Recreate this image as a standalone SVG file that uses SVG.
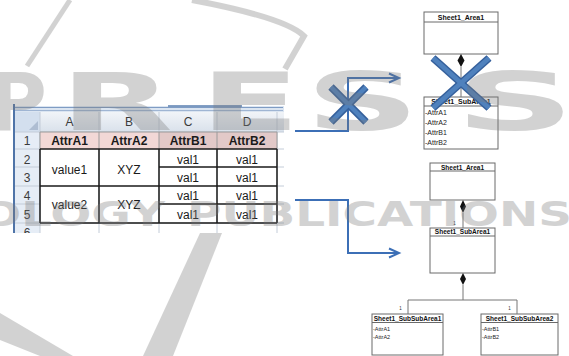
<svg xmlns="http://www.w3.org/2000/svg" width="569" height="356" viewBox="0 0 569 356">
<style>
.cell{font-family:"Liberation Sans",Arial,sans-serif;font-size:12px;fill:#1a1a1a;text-anchor:middle}
.hdr{font-family:"Liberation Sans",Arial,sans-serif;font-size:12px;fill:#3b3b3b;text-anchor:middle}
.bold{font-weight:bold}
.grid{stroke:#c3ccd8;stroke-width:1}
.blk{stroke:#1a1a1a;stroke-width:1.5}
.box{fill:#fff;stroke:#6a6a6a;stroke-width:1}
.sep{stroke:#6a6a6a;stroke-width:1}
.t1{font-family:"Liberation Sans",Arial,sans-serif;font-size:7px;font-weight:bold;fill:#111;text-anchor:middle}
.a1{font-family:"Liberation Sans",Arial,sans-serif;font-size:7px;fill:#222}
.t2{font-family:"Liberation Sans",Arial,sans-serif;font-size:6.5px;font-weight:bold;fill:#111;text-anchor:middle}
.a2{font-family:"Liberation Sans",Arial,sans-serif;font-size:5.5px;fill:#222}
.m{font-family:"Liberation Sans",Arial,sans-serif;font-size:4.5px;fill:#333;text-anchor:middle}
.ln{stroke:#777;stroke-width:1;fill:none}
.dia{fill:#111}
.arr{stroke:#3c6fb6;stroke-width:2;fill:none}
.xo{stroke:#35609c;stroke-width:7.5;stroke-linecap:butt}
.xi{stroke:#4f81bd;stroke-width:4.5;stroke-linecap:butt}
.wm{font-family:"DejaVu Sans",sans-serif;font-weight:bold}
</style>
<defs>
<marker id="chev" markerUnits="userSpaceOnUse" markerWidth="14" markerHeight="14" refX="11" refY="6" orient="auto">
<path d="M1,1.5 L11,6 L1,10.5" fill="none" stroke="#3c6fb6" stroke-width="2"/>
</marker>
<linearGradient id="hg" x1="0" y1="0" x2="0" y2="1">
<stop offset="0" stop-color="#f1f4f8"/><stop offset="1" stop-color="#d9e1eb"/>
</linearGradient>
<clipPath id="tc"><rect x="12" y="104" width="273" height="129"/></clipPath>
</defs>
<rect width="569" height="356" fill="#fff"/>

<g id="table" clip-path="url(#tc)">
<rect x="14" y="106" width="270" height="128" fill="#fff"/>
<rect x="14" y="106" width="270" height="6" fill="#dbe5f1"/>
<line x1="14" y1="107.5" x2="283" y2="107.5" stroke="#7f9cc4" stroke-width="1"/>
<line x1="14" y1="110.5" x2="283" y2="110.5" stroke="#9fb5d3" stroke-width="1"/>
<line x1="168" y1="106" x2="242" y2="106" stroke="#5a7fb0" stroke-width="1.5"/>
<rect x="14" y="112" width="270" height="20" fill="url(#hg)"/>
<rect x="14" y="112" width="26" height="20" fill="#d3dfee"/>
<polygon points="29,130 38,130 38,121" fill="#aebdd2"/>
<rect x="14" y="132" width="26" height="102" fill="#e6edf6"/>
<g class="grid">
<line x1="40" y1="112" x2="40" y2="234"/><line x1="99" y1="112" x2="99" y2="234"/>
<line x1="159" y1="112" x2="159" y2="234"/><line x1="217" y1="112" x2="217" y2="234"/>
<line x1="277" y1="112" x2="277" y2="234"/>
<line x1="14" y1="132" x2="284" y2="132"/><line x1="14" y1="149" x2="40" y2="149"/>
<line x1="14" y1="167" x2="40" y2="167"/><line x1="14" y1="186" x2="40" y2="186"/>
<line x1="14" y1="204" x2="40" y2="204"/><line x1="14" y1="223" x2="284" y2="223"/>
<line x1="277" y1="149" x2="284" y2="149"/><line x1="277" y1="167" x2="284" y2="167"/>
<line x1="277" y1="186" x2="284" y2="186"/><line x1="277" y1="204" x2="284" y2="204"/>
</g>
<rect x="40" y="132" width="119" height="17" fill="#f2d8d6"/>
<rect x="159" y="132" width="118" height="17" fill="#e2c9c8"/>
<g stroke="#9a9a9a" stroke-width="1">
<line x1="40" y1="132" x2="277" y2="132"/>
<line x1="99" y1="132" x2="99" y2="149"/><line x1="159" y1="132" x2="159" y2="149"/>
<line x1="217" y1="132" x2="217" y2="149"/><line x1="277" y1="132" x2="277" y2="149"/>
<line x1="40" y1="132" x2="40" y2="149"/>
</g>
<g class="blk">
<line x1="40" y1="149" x2="277" y2="149"/><line x1="40" y1="186" x2="277" y2="186"/>
<line x1="40" y1="223" x2="277" y2="223"/>
<line x1="159" y1="167" x2="277" y2="167"/><line x1="159" y1="204" x2="277" y2="204"/>
<line x1="40" y1="149" x2="40" y2="223"/><line x1="99" y1="149" x2="99" y2="223"/>
<line x1="159" y1="149" x2="159" y2="223"/><line x1="217" y1="149" x2="217" y2="223"/>
<line x1="277" y1="149" x2="277" y2="223"/>
</g>
<line x1="14" y1="104" x2="14" y2="234" stroke="#4f74a8" stroke-width="2"/>
<text class="hdr" x="69.5" y="126">A</text><text class="hdr" x="129" y="126">B</text>
<text class="hdr" x="188" y="126">C</text><text class="hdr" x="247" y="126">D</text>
<text class="hdr" x="27" y="145">1</text><text class="hdr" x="27" y="163.5">2</text>
<text class="hdr" x="27" y="181.5">3</text><text class="hdr" x="27" y="200">4</text>
<text class="hdr" x="27" y="218.5">5</text><text class="hdr" x="27" y="237">6</text>
<text class="cell bold" x="69.5" y="145">AttrA1</text><text class="cell bold" x="129" y="145">AttrA2</text>
<text class="cell bold" x="188" y="145">AttrB1</text><text class="cell bold" x="247" y="145">AttrB2</text>
<text class="cell" x="69.5" y="173.5">value1</text><text class="cell" x="129" y="173.5">XYZ</text>
<text class="cell" x="69.5" y="208.5">value2</text><text class="cell" x="129" y="208.5">XYZ</text>
<text class="cell" x="188" y="163.5">val1</text><text class="cell" x="247" y="163.5">val1</text>
<text class="cell" x="188" y="181.5">val1</text><text class="cell" x="247" y="181.5">val1</text>
<text class="cell" x="188" y="200">val1</text><text class="cell" x="247" y="200">val1</text>
<text class="cell" x="188" y="218.5">val1</text><text class="cell" x="247" y="218.5">val1</text>
</g>

<g id="top-area1">
<rect class="box" x="424" y="12" width="74" height="42"/>
<line class="sep" x1="424" y1="22" x2="498" y2="22"/>
<text class="t1" x="461" y="19.5">Sheet1_Area1</text>
</g>
<g id="top-subarea1">
<rect class="box" x="424" y="97" width="74" height="52"/>
<line class="sep" x1="424" y1="106" x2="498" y2="106"/>
<text class="t1" x="461" y="104">Sheet1_SubArea1</text>
<text class="a1" x="425" y="114.5">-AttrA1</text>
<text class="a1" x="425" y="124.5">-AttrA2</text>
<text class="a1" x="425" y="135">-AttrB1</text>
<text class="a1" x="425" y="145">-AttrB2</text>
</g>

<g id="bot-area1">
<rect class="box" x="430" y="163" width="65" height="37"/>
<line class="sep" x1="430" y1="171" x2="495" y2="171"/>
<text class="t2" x="462.5" y="169.8">Sheet1_Area1</text>
</g>
<g id="bot-subarea1">
<rect class="box" x="430" y="228" width="65" height="45"/>
<line class="sep" x1="430" y1="236" x2="495" y2="236"/>
<text class="t2" x="462.5" y="234">Sheet1_SubArea1</text>
</g>
<g id="bot-subsubarea1">
<rect class="box" x="372" y="314" width="71" height="41"/>
<line class="sep" x1="372" y1="322.5" x2="443" y2="322.5"/>
<text class="t2" x="407.5" y="320.5">Sheet1_SubSubArea1</text>
<text class="a2" x="373" y="331">-AttrA1</text>
<text class="a2" x="373" y="339">-AttrA2</text>
</g>
<g id="bot-subsubarea2">
<rect class="box" x="481" y="314" width="77" height="41"/>
<line class="sep" x1="481" y1="322.5" x2="558" y2="322.5"/>
<text class="t2" x="519.5" y="320.5">Sheet1_SubSubArea2</text>
<text class="a2" x="482" y="331">-AttrB1</text>
<text class="a2" x="482" y="339">-AttrB2</text>
</g>

<g id="connectors">
<line class="ln" x1="461" y1="67" x2="461" y2="97"/>
<path class="dia" d="M461,54 L464.5,60.5 L461,67 L457.5,60.5 Z"/>
<line class="ln" x1="463" y1="213" x2="463" y2="228"/>
<path class="dia" d="M463,200 L466,206.5 L463,213 L460,206.5 Z"/>
<text class="m" x="454.5" y="225">1</text>
<path class="ln" d="M463,285 V300 M408,314 V300 H517 V314"/>
<path class="dia" d="M463,273 L466,279 L463,285 L460,279 Z"/>
<text class="m" x="400.5" y="310">1</text>
<text class="m" x="509.5" y="310">1</text>
<path class="arr" d="M295,131 H348 V78 H399" marker-end="url(#chev)"/>
<path class="arr" d="M295,200 H348 V253 H399" marker-end="url(#chev)"/>
</g>

<g id="crosses">
<line class="xo" x1="331" y1="87" x2="366" y2="122"/><line class="xo" x1="366" y1="87" x2="331" y2="122"/>
<line class="xi" x1="331" y1="87" x2="366" y2="122"/><line class="xi" x1="366" y1="87" x2="331" y2="122"/>
<line class="xo" x1="433" y1="58" x2="489" y2="108"/><line class="xo" x1="489" y1="58" x2="433" y2="108"/>
<line class="xi" x1="433" y1="58" x2="489" y2="108"/><line class="xi" x1="489" y1="58" x2="433" y2="108"/>
</g>

<g id="watermark" opacity="0.33" fill="#7a7a7a">
<path d="M27,66 L70,0" stroke="#7a7a7a" stroke-width="5" fill="none"/>
<path d="M192,0 C245,10 290,22 304,36 L285,69" stroke="#7a7a7a" stroke-width="6" fill="none"/>
<polygon points="200,233 222,233 173,356 143,356"/>
<polygon points="0,313 73,356 40,356 0,340"/>
<text class="wm" font-size="80" x="-12" y="130" textLength="59" lengthAdjust="spacingAndGlyphs">P</text>
<text class="wm" font-size="80" x="60" y="130" textLength="113" lengthAdjust="spacingAndGlyphs">R</text>
<text class="wm" font-size="80" x="200" y="130" textLength="100" lengthAdjust="spacingAndGlyphs">E</text>
<text class="wm" font-size="80" x="305" y="130" textLength="115" lengthAdjust="spacingAndGlyphs">S</text>
<text class="wm" font-size="80" x="455" y="130" textLength="120" lengthAdjust="spacingAndGlyphs">S</text>
<text class="wm" font-size="34" x="-20" y="226" textLength="185" lengthAdjust="spacingAndGlyphs">OLOGY</text>
<text class="wm" font-size="34" x="187" y="226" textLength="385" lengthAdjust="spacingAndGlyphs">PUBLICATIONS</text>
</g>
</svg>
